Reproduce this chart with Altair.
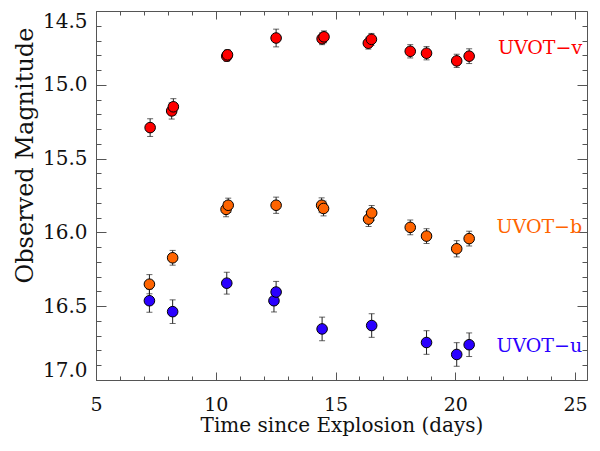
import altair as alt
import pandas as pd

# ---------------- data ----------------
bands = ["UVOT-v", "UVOT-b", "UVOT-u"]
band_colors = ["#FF0000", "#FF6400", "#2A00FF"]
band_labels = ["UVOT\u2212v", "UVOT\u2212b", "UVOT\u2212u"]
label_x = [25.3, 25.3, 25.3]
label_y = [14.75, 15.965, 16.77]

v_days = [7.26, 8.16, 8.23, 10.46, 10.49, 12.52, 14.44, 14.52, 16.37, 16.50, 18.12, 18.80, 20.06, 20.58]
v_mag = [15.29, 15.177, 15.149, 14.806, 14.797, 14.683, 14.688, 14.675, 14.718, 14.692, 14.773, 14.786, 14.838, 14.806]
v_err = [0.06, 0.055, 0.055, 0.035, 0.035, 0.06, 0.04, 0.04, 0.04, 0.04, 0.045, 0.045, 0.045, 0.05]

b_days = [7.23, 8.20, 10.43, 10.52, 12.52, 14.42, 14.50, 16.38, 16.51, 18.12, 18.80, 20.06, 20.58]
b_mag = [16.351, 16.172, 15.844, 15.816, 15.816, 15.816, 15.838, 15.91, 15.868, 15.966, 16.025, 16.111, 16.042]
b_err = [0.065, 0.05, 0.05, 0.048, 0.055, 0.05, 0.05, 0.05, 0.05, 0.05, 0.05, 0.055, 0.05]

u_days = [7.23, 8.20, 10.46, 12.43, 12.52, 14.44, 16.51, 18.80, 20.06, 20.58]
u_mag = [16.463, 16.537, 16.344, 16.463, 16.404, 16.654, 16.631, 16.746, 16.827, 16.761]
u_err = [0.078, 0.08, 0.074, 0.076, 0.072, 0.08, 0.08, 0.08, 0.08, 0.08]

x_major = [5, 10, 15, 20, 25]
x_minor = [5, 6, 7, 8, 9, 10, 11, 12, 13, 14, 15, 16, 17, 18, 19, 20, 21, 22, 23, 24, 25]
y_major = [14.5, 15.0, 15.5, 16.0, 16.5, 17.0]
y_minor = [14.6, 14.7, 14.8, 14.9, 15.1, 15.2, 15.3, 15.4, 15.6, 15.7, 15.8, 15.9,
           16.1, 16.2, 16.3, 16.4, 16.6, 16.7, 16.8, 16.9]

# ---------------- tables ----------------
rows = []
for band, days, mags, errs in [("UVOT-v", v_days, v_mag, v_err),
                               ("UVOT-b", b_days, b_mag, b_err),
                               ("UVOT-u", u_days, u_mag, u_err)]:
    for d, m, e in zip(days, mags, errs):
        rows.append({"band": band, "day": d, "mag": m, "lo": m - e, "hi": m + e})
df = pd.DataFrame(rows)
labels_df = pd.DataFrame({"band": bands, "text": band_labels, "x": label_x, "y": label_y})

W, H = 491, 369
FONT = "DejaVu Serif"
AX = "#555555"
TXT = "#111111"

xs = alt.Scale(domain=[5, 25.5], nice=False, zero=False)
ys = alt.Scale(domain=[14.5, 17.0], reverse=True, nice=False, zero=False)
col = alt.Color("band:N", scale=alt.Scale(domain=bands, range=band_colors), legend=None)

base = alt.Chart(df)

err_rule = base.mark_rule(color="#222222", strokeWidth=1).encode(
    x=alt.X("day:Q", scale=xs, axis=None),
    y=alt.Y("lo:Q", scale=ys, axis=None),
    y2="hi:Q",
)
caps = base.transform_fold(["lo", "hi"], as_=["which", "val"]).mark_tick(
    orient="horizontal", size=6, thickness=1, color="#222222"
).encode(
    x=alt.X("day:Q", scale=xs, axis=None),
    y=alt.Y("val:Q", scale=ys, axis=None),
)

points = base.mark_point(filled=True, size=112, stroke="black", strokeWidth=1, opacity=1).encode(
    x=alt.X("day:Q", scale=xs, axis=alt.Axis(
        orient="bottom", values=x_major, format="d", ticks=False, domain=False, grid=False,
        labelFont=FONT, labelFontSize=19, labelColor=TXT, labelPadding=15, labelFlush=False,
        title="Time since Explosion (days)", titleFont=FONT, titleFontSize=20,
        titleFontWeight="normal", titleColor=TXT, titleY=51, titleBaseline="alphabetic")),
    y=alt.Y("mag:Q", scale=ys, axis=alt.Axis(
        orient="left", values=y_major, format=".1f", ticks=False, domain=False, grid=False,
        labelFont=FONT, labelFontSize=20, labelColor=TXT, labelPadding=9, labelFlush=True,
        title="Observed Magnitude", titleFont=FONT, titleFontSize=24, titleFontWeight="normal",
        titleColor=TXT, titleAngle=270, titleX=-64, titleY=144, titleBaseline="alphabetic")),
    fill=col,
)

labels = alt.Chart(labels_df).mark_text(align="right", baseline="middle", font=FONT, fontSize=19).encode(
    x=alt.X("x:Q", scale=xs, axis=None),
    y=alt.Y("y:Q", scale=ys, axis=None),
    text="text:N",
    color=col,
)


def tick_layer(x_orient, x_vals, x_len, y_orient, y_vals, y_len):
    return base.mark_point(opacity=0).encode(
        x=alt.X("day:Q", scale=xs, axis=alt.Axis(
            orient=x_orient, offset=-H, values=x_vals, labels=False, domain=False, grid=False,
            ticks=True, tickSize=x_len, tickColor=AX, tickWidth=1, title=None)),
        y=alt.Y("mag:Q", scale=ys, axis=alt.Axis(
            orient=y_orient, offset=-W, values=y_vals, labels=False, domain=False, grid=False,
            ticks=True, tickSize=y_len, tickColor=AX, tickWidth=1, title=None)),
    )


t1 = tick_layer("top", x_major, 8, "right", y_major, 10)      # bottom & left, major
t2 = tick_layer("top", x_minor, 4, "right", y_minor, 5)       # bottom & left, minor
t3 = tick_layer("bottom", x_major, 8, "left", y_major, 10)    # top & right, major
t4 = tick_layer("bottom", x_minor, 4, "left", y_minor, 5)     # top & right, minor

chart = alt.layer(t1, t2, t3, t4, err_rule, caps, points, labels).resolve_axis(
    x="independent", y="independent"
).properties(
    width=W, height=H,
    autosize=alt.AutoSizeParams(type="none"),
    padding={"left": 88, "top": 3, "right": 5, "bottom": 56},
    background="white",
).configure_view(stroke=AX, strokeWidth=1)

chart.save("out.html", embed_options={"renderer": "svg", "actions": False})
